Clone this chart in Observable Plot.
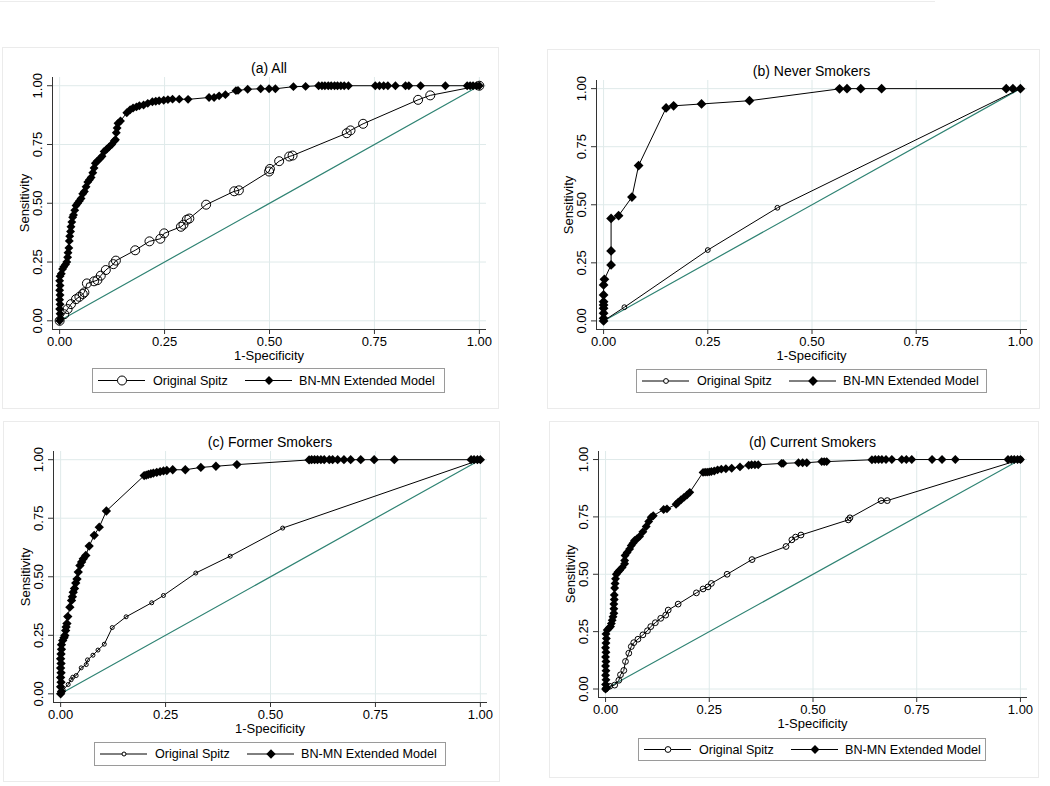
<!DOCTYPE html>
<html><head><meta charset="utf-8">
<script src="https://cdn.jsdelivr.net/npm/d3@7"></script>
<script src="https://cdn.jsdelivr.net/npm/@observablehq/plot@0.6"></script>
<style>
body{margin:0;background:#fff;}
#root{position:relative;width:1050px;height:786px;background:#fff;font-family:"Liberation Sans",Arial,sans-serif;color:#000;overflow:hidden;}
.box{position:absolute;border:1px solid #ebebeb;box-sizing:border-box;}
.lbl{position:absolute;white-space:nowrap;font-size:13px;line-height:1;}
.leg{position:absolute;border:1px solid #9a9a9a;box-sizing:border-box;background:#fff;}
.leg svg{position:absolute;top:0;left:0;}
.plotwrap{position:absolute;}
</style></head>
<body><div id="root"></div>
<script>
// ---------- data ----------
const xTicks = [0, 0.25, 0.5, 0.75, 1];
const yTicks = [0, 0.25, 0.5, 0.75, 1];
const titles = ["(a) All", "(b) Never Smokers", "(c) Former Smokers", "(d) Current Smokers"];
const seriesNames = ["Original Spitz", "BN-MN Extended Model"];
const xLabel = "1-Specificity";
const yLabel = "Sensitivity";
const diagonal = [[0, 0], [1, 1]];

const allSpitz = [[0,0],[0.011,0.028],[0.019,0.05],[0.027,0.071],[0.039,0.092],[0.047,0.102],[0.055,0.114],[0.059,0.121],[0.065,0.159],[0.082,0.168],[0.09,0.173],[0.098,0.192],[0.11,0.216],[0.128,0.241],[0.134,0.256],[0.18,0.30],[0.214,0.338],[0.24,0.349],[0.249,0.372],[0.289,0.40],[0.295,0.409],[0.303,0.43],[0.309,0.435],[0.349,0.494],[0.416,0.551],[0.427,0.555],[0.499,0.635],[0.501,0.646],[0.523,0.679],[0.547,0.699],[0.555,0.703],[0.684,0.798],[0.693,0.81],[0.723,0.838],[0.854,0.94],[0.883,0.959],[1,1]];
const allBN = [[0,0],[0.002,0.01],[0.001,0.03],[0,0.05],[0.001,0.07],[0,0.09],[0.001,0.11],[0,0.13],[0.001,0.15],[0,0.17],[0.001,0.19],[0.004,0.2],[0.007,0.22],[0.01,0.23],[0.014,0.24],[0.017,0.25],[0.019,0.27],[0.02,0.29],[0.022,0.31],[0.023,0.34],[0.024,0.36],[0.026,0.38],[0.027,0.40],[0.029,0.42],[0.031,0.44],[0.033,0.45],[0.036,0.47],[0.039,0.49],[0.043,0.50],[0.047,0.51],[0.051,0.52],[0.055,0.54],[0.059,0.55],[0.063,0.57],[0.067,0.59],[0.071,0.60],[0.075,0.61],[0.079,0.63],[0.082,0.65],[0.085,0.67],[0.09,0.68],[0.096,0.69],[0.101,0.70],[0.106,0.72],[0.112,0.73],[0.118,0.74],[0.124,0.75],[0.13,0.765],[0.133,0.77],[0.135,0.8],[0.137,0.82],[0.139,0.84],[0.145,0.85],[0.16,0.885],[0.168,0.898],[0.175,0.905],[0.183,0.91],[0.19,0.915],[0.2,0.918],[0.21,0.925],[0.221,0.932],[0.229,0.934],[0.237,0.936],[0.248,0.938],[0.258,0.941],[0.269,0.943],[0.285,0.943],[0.306,0.942],[0.356,0.95],[0.368,0.95],[0.38,0.957],[0.395,0.962],[0.42,0.979],[0.425,0.98],[0.448,0.985],[0.479,0.987],[0.499,0.987],[0.514,0.987],[0.557,0.996],[0.586,0.997],[0.617,1],[0.625,1],[0.632,1],[0.64,1],[0.647,1],[0.655,1],[0.662,1],[0.67,1],[0.678,1],[0.688,1],[0.752,1],[0.762,1],[0.772,1],[0.782,1],[0.8,1],[0.824,1],[0.832,1],[0.86,1],[0.919,1],[0.971,1],[0.978,1],[0.985,1],[0.993,1],[1,1]];

const neverSpitz = [[0,0],[0.05,0.059],[0.25,0.305],[0.417,0.487],[1,1]];
const neverBN = [[0,0],[0,0.011],[0,0.033],[0,0.054],[0,0.069],[0,0.083],[0,0.112],[0,0.155],[0.002,0.179],[0.018,0.241],[0.018,0.301],[0.018,0.441],[0.036,0.453],[0.068,0.533],[0.084,0.669],[0.15,0.917],[0.168,0.926],[0.235,0.934],[0.35,0.948],[0.566,0.999],[0.584,1],[0.617,1],[0.667,1],[0.966,1],[0.982,1],[1,1]];

const formerSpitz = [[0,0],[0.006,0.017],[0.018,0.04],[0.025,0.06],[0.029,0.071],[0.037,0.078],[0.049,0.111],[0.061,0.125],[0.064,0.145],[0.077,0.165],[0.089,0.187],[0.104,0.212],[0.123,0.283],[0.156,0.329],[0.217,0.389],[0.245,0.42],[0.322,0.516],[0.404,0.588],[0.529,0.708],[1,1]];
const formerBN = [[0,0],[0.002,0.01],[0,0.03],[0.001,0.05],[0,0.07],[0.001,0.09],[0,0.11],[0.001,0.13],[0,0.15],[0.001,0.17],[0.002,0.19],[0.002,0.21],[0.005,0.228],[0.008,0.24],[0.01,0.249],[0.012,0.27],[0.013,0.285],[0.015,0.30],[0.017,0.33],[0.022,0.37],[0.026,0.399],[0.028,0.415],[0.03,0.434],[0.033,0.45],[0.036,0.473],[0.039,0.49],[0.042,0.52],[0.046,0.548],[0.05,0.563],[0.054,0.577],[0.06,0.591],[0.068,0.631],[0.08,0.677],[0.092,0.712],[0.109,0.781],[0.199,0.932],[0.204,0.934],[0.209,0.937],[0.215,0.94],[0.221,0.943],[0.229,0.946],[0.237,0.949],[0.245,0.952],[0.253,0.954],[0.267,0.957],[0.297,0.957],[0.334,0.967],[0.37,0.972],[0.42,0.979],[0.592,0.999],[0.598,1],[0.605,1],[0.612,1],[0.62,1],[0.628,1],[0.64,1],[0.648,1],[0.66,1],[0.675,1],[0.691,1],[0.715,1],[0.747,1],[0.795,1],[0.978,1],[0.985,1],[0.993,1],[1,1]];

const currentSpitz = [[0,0],[0.01,0.012],[0.022,0.017],[0.032,0.038],[0.036,0.062],[0.044,0.081],[0.048,0.12],[0.056,0.156],[0.062,0.185],[0.068,0.202],[0.078,0.217],[0.09,0.236],[0.101,0.254],[0.109,0.272],[0.12,0.289],[0.133,0.308],[0.145,0.322],[0.151,0.344],[0.175,0.37],[0.219,0.419],[0.235,0.436],[0.247,0.445],[0.255,0.46],[0.293,0.5],[0.353,0.564],[0.435,0.621],[0.449,0.65],[0.458,0.662],[0.471,0.671],[0.585,0.737],[0.589,0.746],[0.664,0.821],[0.679,0.821],[1,1]];
const currentBN = [[0,0],[0.003,0.005],[0,0.02],[0.001,0.04],[0,0.06],[0.001,0.08],[0,0.10],[0.001,0.12],[0,0.14],[0.001,0.16],[0,0.18],[0.001,0.20],[0.002,0.22],[0.001,0.24],[0.004,0.257],[0.008,0.265],[0.012,0.272],[0.014,0.285],[0.016,0.30],[0.018,0.315],[0.02,0.33],[0.02,0.35],[0.02,0.37],[0.021,0.39],[0.021,0.41],[0.022,0.44],[0.023,0.46],[0.024,0.48],[0.026,0.50],[0.03,0.51],[0.034,0.517],[0.04,0.53],[0.046,0.546],[0.046,0.56],[0.047,0.582],[0.052,0.595],[0.058,0.61],[0.062,0.625],[0.066,0.635],[0.07,0.647],[0.076,0.655],[0.082,0.665],[0.09,0.685],[0.098,0.708],[0.104,0.73],[0.11,0.749],[0.115,0.755],[0.14,0.782],[0.148,0.785],[0.17,0.805],[0.175,0.814],[0.182,0.825],[0.189,0.835],[0.196,0.845],[0.203,0.857],[0.235,0.944],[0.24,0.945],[0.245,0.945],[0.25,0.946],[0.255,0.948],[0.262,0.95],[0.27,0.955],[0.279,0.958],[0.29,0.96],[0.304,0.962],[0.324,0.968],[0.345,0.975],[0.352,0.977],[0.36,0.977],[0.368,0.977],[0.424,0.983],[0.428,0.983],[0.465,0.986],[0.475,0.986],[0.485,0.986],[0.521,0.991],[0.527,0.991],[0.533,0.991],[0.642,0.999],[0.65,1],[0.658,1],[0.666,1],[0.676,1],[0.69,1],[0.714,1],[0.725,1],[0.738,1],[0.787,1],[0.811,1],[0.843,1],[0.97,1],[0.978,1],[0.985,1],[0.993,1],[1,1]];

// ---------- layout / style ----------
const xDomain = [-0.017, 1.017];
const yDomain = [-0.037, 1.035];
const gridColor = "#dfeaea";
const diagColor = "#2f8373";
const fmt = d3.format(".2f");

const panels = [
  {title: titles[0], spitz: allSpitz, bn: allBN, frame: [52,77,486,329], box: [2,47,499,409], legend: [92,368,445,393], cr: 4.5, dr: 4.0},
  {title: titles[1], spitz: neverSpitz, bn: neverBN, frame: [596,80,1027,329], box: [547,49,1040,409], legend: [636,369,987,393], cr: 2.4, dr: 4.4},
  {title: titles[2], spitz: formerSpitz, bn: formerBN, frame: [53,451,487,702], box: [3,421,500,782], legend: [94,742,446,766], cr: 2.0, dr: 4.2},
  {title: titles[3], spitz: currentSpitz, bn: currentBN, frame: [598,451,1027,697], box: [549,421,1039,778], legend: [638,738,986,761], cr: 2.9, dr: 4.0}
];

const root = document.getElementById("root");
const topLine = document.createElement("div");
topLine.style.cssText = "position:absolute;left:0;top:1px;width:935px;height:1px;background:#ececec;";
root.appendChild(topLine);

function addLabel(text, x, y, opts = {}) {
  const el = document.createElement("div");
  el.className = "lbl";
  el.textContent = text;
  el.style.left = x + "px";
  el.style.top = y + "px";
  el.style.fontSize = (opts.size || 13) + "px";
  el.style.transform = "translate(-50%,-50%)" + (opts.rotate ? " rotate(" + opts.rotate + "deg)" : "");
  root.appendChild(el);
}

function toObj(arr) { return arr.map(([x, y]) => ({x, y})); }

panels.forEach(p => {
  const [bl, bt, br, bb] = p.box;
  const box = document.createElement("div");
  box.className = "box";
  box.style.left = bl + "px"; box.style.top = bt + "px";
  box.style.width = (br - bl) + "px"; box.style.height = (bb - bt) + "px";
  root.appendChild(box);

  const [L, T, R, B] = p.frame;
  const mL = 50, mT = 6, mR = 8, mB = 40;
  const sp = toObj(p.spitz), bn = toObj(p.bn), dg = toObj(diagonal);
  const chart = Plot.plot({
    width: R - L + mL + mR, height: B - T + mT + mB,
    marginLeft: mL, marginTop: mT, marginRight: mR, marginBottom: mB,
    style: {background: "transparent", fontFamily: "'Liberation Sans', Arial, sans-serif", fontSize: "13px", overflow: "visible", color: "#000"},
    x: {domain: xDomain},
    y: {domain: yDomain},
    marks: [
      Plot.gridX(xTicks, {stroke: gridColor, strokeOpacity: 1}),
      Plot.gridY(yTicks, {stroke: gridColor, strokeOpacity: 1}),
      Plot.axisX(xTicks, {tickSize: 5, tickPadding: 2, tickFormat: fmt, fontSize: 13, label: null, stroke: "#333"}),
      Plot.axisY(yTicks, {tickSize: 5, tickFormat: () => "", label: null, stroke: "#333"}),
      Plot.text(yTicks, {x: () => xDomain[0], y: d => d, text: d => fmt(d), rotate: -90, dx: -15, textAnchor: "middle", fontSize: 13, fill: "#000"}),
      Plot.ruleX([xDomain[0]], {stroke: "#333"}),
      Plot.ruleY([yDomain[0]], {stroke: "#333"}),
      Plot.line(dg, {x: "x", y: "y", stroke: diagColor, strokeWidth: 1.2}),
      Plot.line(sp, {x: "x", y: "y", stroke: "#000", strokeWidth: 1}),
      Plot.dot(sp, {x: "x", y: "y", r: p.cr, stroke: "#000", fill: "none", strokeWidth: 1}),
      Plot.line(bn, {x: "x", y: "y", stroke: "#000", strokeWidth: 1}),
      Plot.dot(bn, {x: "x", y: "y", r: p.dr, symbol: "diamond2", fill: "#000", stroke: "none"})
    ]
  });
  const wrap = document.createElement("div");
  wrap.className = "plotwrap";
  wrap.style.left = (L - mL) + "px";
  wrap.style.top = (T - mT) + "px";
  wrap.appendChild(chart);
  root.appendChild(wrap);

  const cx = (L + R) / 2;
  addLabel(p.title, cx, (T - 8) - 1, {size: 14});
  addLabel(xLabel, cx, B + 26);
  addLabel(yLabel, L - 28, (T + B) / 2, {rotate: -90});

  // legend
  const [ll, lt, lr, lb] = p.legend;
  const leg = document.createElement("div");
  leg.className = "leg";
  leg.style.left = ll + "px"; leg.style.top = lt + "px";
  leg.style.width = (lr - ll) + "px"; leg.style.height = (lb - lt) + "px";
  const lh = lb - lt, my = (lh - 2) / 2;
  const drs = p.dr * 1.11;
  leg.innerHTML =
    `<svg width="${lr - ll}" height="${lh}">
      <line x1="5" x2="52" y1="${my}" y2="${my}" stroke="#000"/>
      <circle cx="29" cy="${my}" r="${p.cr}" fill="#fff" stroke="#000"/>
      <line x1="152" x2="199" y1="${my}" y2="${my}" stroke="#000"/>
      <path d="M${176},${my - drs}L${176 + drs},${my}L${176},${my + drs}L${176 - drs},${my}Z" fill="#000"/>
      <text x="60" y="${my}" dy="0.35em" font-size="12.6" font-family="'Liberation Sans', Arial, sans-serif">${seriesNames[0]}</text>
      <text x="206" y="${my}" dy="0.35em" font-size="12.6" font-family="'Liberation Sans', Arial, sans-serif">${seriesNames[1]}</text>
    </svg>`;
  root.appendChild(leg);
});
</script></body></html>
